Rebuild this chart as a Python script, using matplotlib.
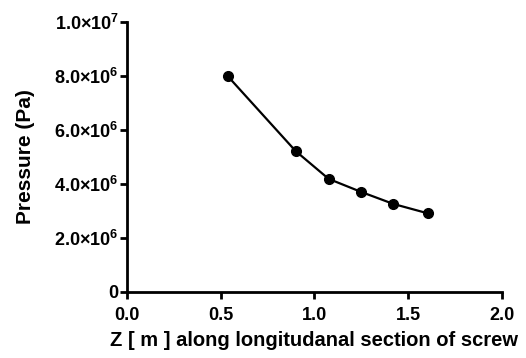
import numpy as np
import matplotlib.pyplot as plt

plt.rcParams['font.family'] = ['Liberation Sans', 'DejaVu Sans']
plt.rcParams['font.weight'] = 'bold'
plt.rcParams['mathtext.fontset'] = 'custom'
plt.rcParams['mathtext.rm'] = 'Liberation Sans:bold'
plt.rcParams['mathtext.bf'] = 'Liberation Sans:bold'

# data
z_m = [0.537, 0.90, 1.076, 1.248, 1.422, 1.607]
pressure_pa = [8.0e6, 5.22e6, 4.19e6, 3.71e6, 3.26e6, 2.91e6]

x_ticks = [0.0, 0.5, 1.0, 1.5, 2.0]
y_ticks = [0, 2e6, 4e6, 6e6, 8e6, 1e7]
y_tick_labels = ['0', '2.0×10$^{6}$', '4.0×10$^{6}$', '6.0×10$^{6}$',
                 '8.0×10$^{6}$', '1.0×10$^{7}$']

fig = plt.figure(figsize=(5.26, 3.58), dpi=100)
ax = fig.add_axes([0.2414, 0.1844, 0.954 - 0.2414, 0.9385 - 0.1844])

ax.plot(z_m, pressure_pa, color='black', lw=1.6, marker='o', ms=7,
        clip_on=False)

ax.set_xlim(0, 2.0)
ax.set_ylim(0, 1e7)
ax.set_xticks(x_ticks)
ax.set_xticklabels([f'{t:.1f}' for t in x_ticks])
ax.set_yticks(y_ticks)
ax.set_yticklabels(y_tick_labels)

for s in ['top', 'right']:
    ax.spines[s].set_visible(False)
for s in ['left', 'bottom']:
    ax.spines[s].set_linewidth(2)
ax.tick_params(width=2, length=5, labelsize=13)
ax.tick_params(axis='x', pad=6)
ax.tick_params(axis='y', pad=1)

ax.set_xlabel('Z [ m ] along longitudanal section of screw', fontsize=14.5,
              fontweight='bold', labelpad=5)
ax.set_ylabel('Pressure (Pa)', fontsize=15, fontweight='bold', labelpad=14)

fig.savefig('out.png', dpi=100)
